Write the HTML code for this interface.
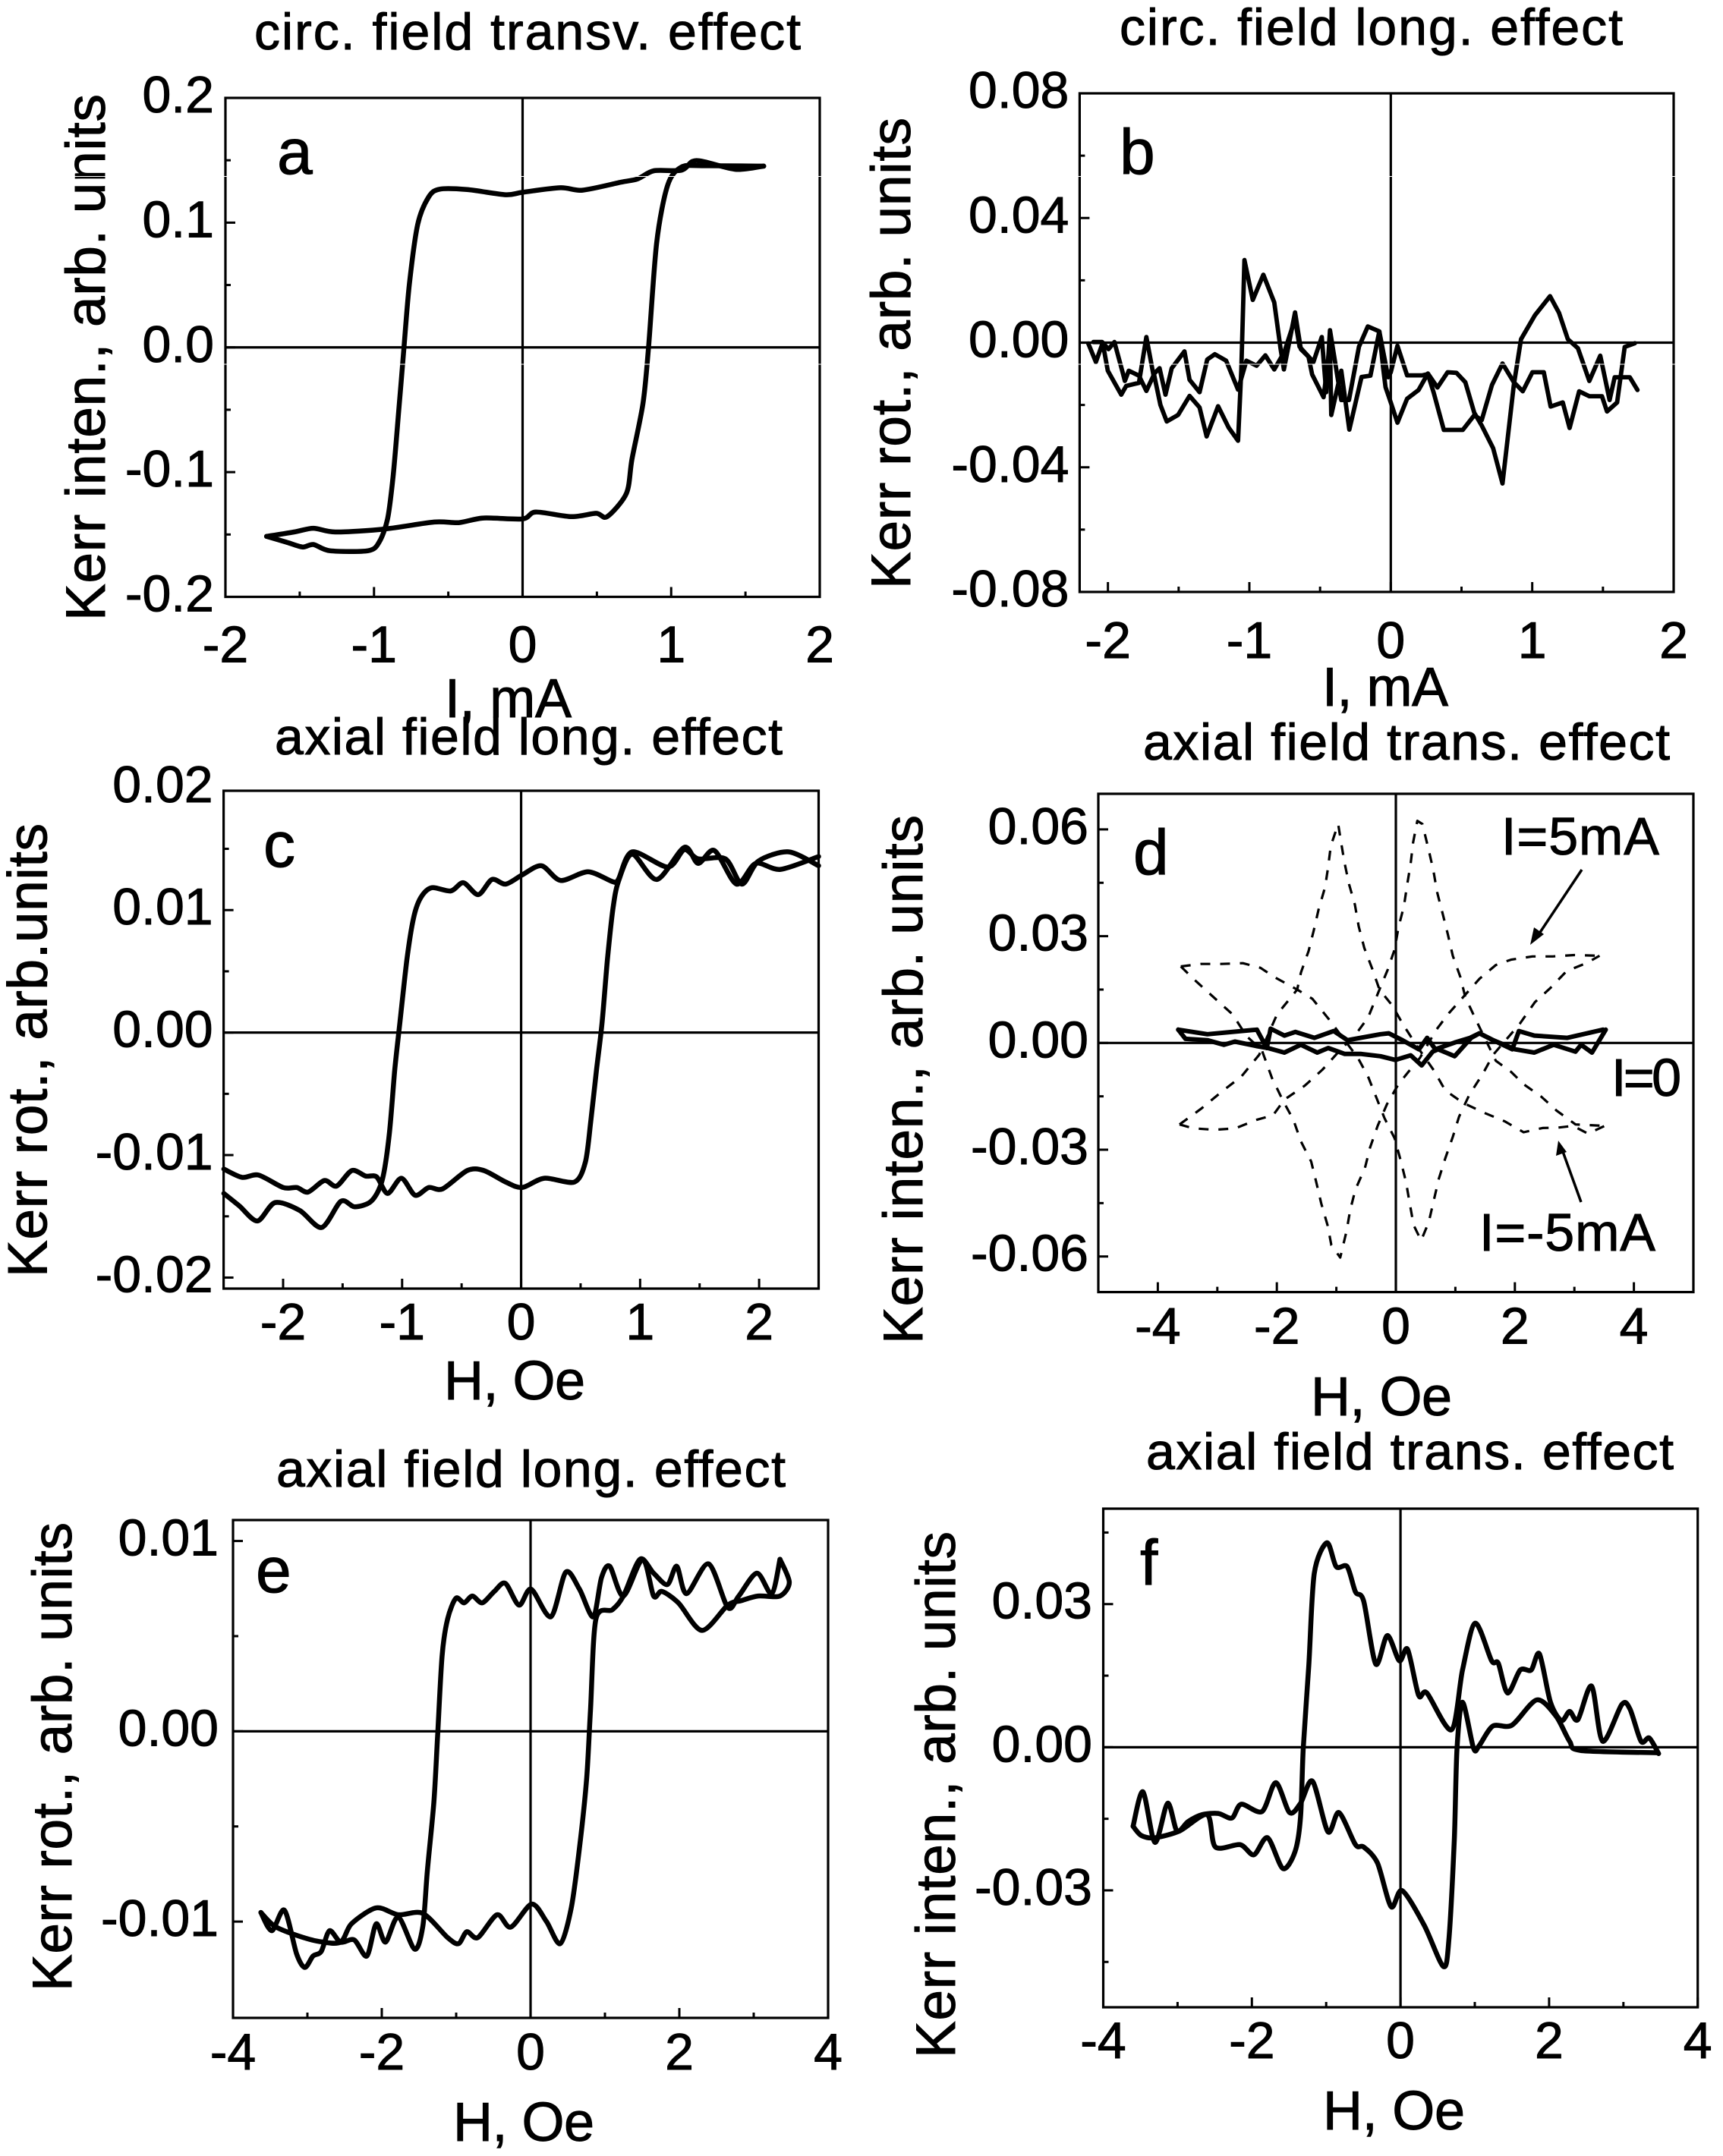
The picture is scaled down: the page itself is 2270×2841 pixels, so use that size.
<!DOCTYPE html>
<html lang="en">
<head>
<meta charset="utf-8">
<title>Kerr effect hysteresis panels</title>
<style>
html,body{margin:0;padding:0;background:#fff;}
#figure{display:block;width:2270px;height:2841px;background:#fff;font-family:"Liberation Sans",sans-serif;fill:#000;}
#figure text{stroke:#000;stroke-width:1px;}
.title{font-size:68px;}
.ylab{font-size:73px;}
.xlab{font-size:72px;}
.letter{font-size:84px;}
.note{font-size:70px;}
.tick{font-size:68px;}
</style>
</head>
<body>
<svg id="figure" xmlns="http://www.w3.org/2000/svg" width="2270" height="2841" viewBox="0 0 2270 2841">
  <rect x="0" y="0" width="2270" height="2841" fill="#fff"/>

  <g id="panel-a">
    <text class="title" x="335" y="65" textLength="720" lengthAdjust="spacing">circ. field transv. effect</text>
    <text class="ylab" transform="translate(138,818) rotate(-90)" textLength="694" lengthAdjust="spacing">Kerr inten., arb. units</text>
    <text class="xlab" x="586" y="945" textLength="167" lengthAdjust="spacing">I, mA</text>
    <text class="letter" x="365" y="229">a</text>
  </g>
  <g id="panel-b">
    <text class="title" x="1475" y="59" textLength="663" lengthAdjust="spacing">circ. field long. effect</text>
    <text class="ylab" transform="translate(1199,776) rotate(-90)" textLength="621" lengthAdjust="spacing">Kerr rot., arb. units</text>
    <text class="xlab" x="1742" y="930" textLength="166" lengthAdjust="spacing">I, mA</text>
    <text class="letter" x="1475" y="229">b</text>
  </g>
  <g id="panel-c">
    <text class="title" x="362" y="994" textLength="669" lengthAdjust="spacing">axial field long. effect</text>
    <text class="ylab" transform="translate(61.5,1683) rotate(-90)" textLength="598" lengthAdjust="spacing">Kerr rot., arb.units</text>
    <text class="xlab" x="585" y="1844" textLength="186" lengthAdjust="spacing">H, Oe</text>
    <text class="letter" x="347" y="1142">c</text>
  </g>
  <g id="panel-d">
    <text class="title" x="1506" y="1001" textLength="694" lengthAdjust="spacing">axial field trans. effect</text>
    <text class="ylab" transform="translate(1215,1771) rotate(-90)" textLength="697" lengthAdjust="spacing">Kerr inten., arb. units</text>
    <text class="xlab" x="1727" y="1865" textLength="186" lengthAdjust="spacing">H, Oe</text>
    <text class="letter" x="1493" y="1152">d</text>
    <text class="note" x="1978" y="1126" textLength="208" lengthAdjust="spacing">I=5mA</text>
    <text class="note" x="2123" y="1444" textLength="92" lengthAdjust="spacing">I=0</text>
    <text class="note" x="1949" y="1648" textLength="232" lengthAdjust="spacing">I=-5mA</text>
    <line x1="2084" y1="1146" x2="2024" y2="1236" stroke="#000" stroke-width="3.5"/>
    <polygon points="2016,1245 2021,1222 2034,1231" fill="#000"/>
    <line x1="2083" y1="1584" x2="2057" y2="1512" stroke="#000" stroke-width="3.5"/>
    <polygon points="2053,1503 2050,1523 2064,1518" fill="#000"/>
  </g>
  <g id="panel-e">
    <text class="title" x="364" y="1959" textLength="671" lengthAdjust="spacing">axial field long. effect</text>
    <text class="ylab" transform="translate(94,2624) rotate(-90)" textLength="618" lengthAdjust="spacing">Kerr rot., arb. units</text>
    <text class="xlab" x="597" y="2821" textLength="186" lengthAdjust="spacing">H, Oe</text>
    <text class="letter" x="337" y="2098">e</text>
  </g>
  <g id="panel-f">
    <text class="title" x="1510" y="1936" textLength="695" lengthAdjust="spacing">axial field trans. effect</text>
    <text class="ylab" transform="translate(1258,2712) rotate(-90)" textLength="694" lengthAdjust="spacing">Kerr inten., arb. units</text>
    <text class="xlab" x="1743" y="2806" textLength="187" lengthAdjust="spacing">H, Oe</text>
    <text class="letter" x="1502" y="2088">f</text>
  </g>
</svg>

<script>
// ---------- Panel a ----------
const aUpI = [-1.723,-1.593,-1.482,-1.408,-1.298,-1.039,-0.965,-0.909,-0.872,-0.835,-0.799,-0.762,-0.706,-0.632,-0.558,-0.373,-0.115,0,0.255,0.403,0.662,0.773,0.884,1.068,1.142,1.216,1.438,1.623];
const aUpKerr = [-0.1515,-0.156,-0.160,-0.158,-0.163,-0.163,-0.156,-0.1375,-0.104,-0.053,-0.001,0.0505,0.0985,0.1206,0.1268,0.1265,0.1224,0.1243,0.128,0.126,0.1324,0.135,0.1416,0.142,0.149,0.149,0.1427,0.1453];
const aDownI = [1.623,1.216,1.068,0.976,0.902,0.847,0.81,0.736,0.699,0.569,0.495,0.329,0.089,0,-0.262,-0.429,-0.595,-0.928,-1.261,-1.408,-1.538,-1.723];
const aDownKerr = [0.1453,0.1456,0.1445,0.130,0.0837,-0.001,-0.045,-0.0896,-0.117,-0.1357,-0.133,-0.1357,-0.132,-0.1375,-0.1368,-0.1405,-0.140,-0.1456,-0.148,-0.145,-0.148,-0.1515];
const aXMajor = [-2,-1,0,1,2];
const aXLabels = ['-2','-1','0','1','2'];
const aXMinor = [-1.5,-0.5,0.5,1.5];
const aYMajor = [0.2,0.1,0,-0.1,-0.2];
const aYLabels = ['0.2','0.1','0.0','-0.1','-0.2'];
const aYMinor = [0.15,0.05,-0.05,-0.15];

// ---------- Panel b ----------
const bOneI = [-2.139,-2.085,-2.037,-2.001,-1.906,-1.871,-1.781,-1.728,-1.679,-1.635,-1.593,-1.549,-1.459,-1.423,-1.352,-1.298,-1.244,-1.164,-1.080,-1.021,-0.949,-0.887,-0.824,-0.752,-0.677,-0.645,-0.547,-0.488,-0.457,-0.430,-0.377,-0.350,-0.296,-0.225,-0.162,-0.081,-0.019,0,0.047,0.115,0.223,0.262,0.303,0.375,0.509,0.590,0.643,0.715,0.790,0.870,0.933,1.001,1.082,1.130,1.216,1.264,1.332,1.404,1.493,1.529,1.600,1.654,1.726];
const bOneKerr = [-0.0003,-0.0062,-0.0001,-0.0090,-0.0167,-0.0139,-0.0129,0.0018,-0.0102,-0.0082,-0.0167,-0.0082,-0.0028,-0.0119,-0.0159,-0.0054,-0.0037,-0.0058,-0.0151,-0.0058,-0.0074,-0.0041,-0.0086,-0.0029,0.0076,-0.0013,-0.0062,0.0018,-0.0159,0.0040,-0.0110,-0.0184,-0.0184,-0.0013,0.0052,0.0036,-0.0111,-0.0095,-0.0010,-0.0105,-0.0105,-0.0101,-0.0160,-0.0280,-0.0280,-0.0233,-0.0249,-0.0136,-0.0067,-0.0127,-0.0156,-0.0095,-0.0095,-0.0205,-0.0192,-0.0274,-0.0156,-0.0172,-0.0172,-0.0221,-0.0192,-0.0014,-0.0002];
const bTwoI = [-2.103,-2.041,-1.996,-1.954,-1.897,-1.880,-1.853,-1.781,-1.728,-1.674,-1.629,-1.584,-1.504,-1.423,-1.352,-1.302,-1.221,-1.146,-1.080,-1.057,-1.035,-0.976,-0.901,-0.824,-0.779,-0.756,-0.677,-0.636,-0.582,-0.556,-0.475,-0.430,-0.421,-0.350,-0.293,-0.207,-0.144,-0.081,-0.055,-0.037,0,0.047,0.115,0.196,0.262,0.330,0.402,0.464,0.527,0.590,0.643,0.724,0.790,0.870,0.921,1.019,1.126,1.189,1.252,1.323,1.404,1.481,1.547,1.583,1.690,1.744];
const bTwoKerr = [0.0002,0.0002,-0.0021,0.0002,-0.0094,-0.0123,-0.0090,-0.0106,-0.0155,-0.0102,-0.0200,-0.0253,-0.0232,-0.0171,-0.0208,-0.0301,-0.0204,-0.0273,-0.0315,-0.0086,0.0265,0.0137,0.0218,0.0129,-0.0021,-0.0086,0.0097,-0.0021,-0.0045,-0.0102,-0.0175,-0.0005,-0.0232,-0.0090,-0.0279,-0.0110,-0.0106,0.0036,-0.0078,-0.0143,-0.0192,-0.0257,-0.0180,-0.0152,-0.0099,-0.0144,-0.0095,-0.0097,-0.0127,-0.0225,-0.0266,-0.0339,-0.0452,-0.0136,0.0011,0.0088,0.0149,0.0096,0.0011,-0.0018,-0.0123,-0.0042,-0.0184,-0.0111,-0.0111,-0.0152];
const bXMajor = [-2,-1,0,1,2];
const bXLabels = ['-2','-1','0','1','2'];
const bXMinor = [-1.5,-0.5,0.5,1.5];
const bYMajor = [0.08,0.04,0,-0.04,-0.08];
const bYLabels = ['0.08','0.04','0.00','-0.04','-0.08'];
const bYMinor = [0.06,0.02,-0.02,-0.06];

// ---------- Panel c ----------
const cOneH = [-2.498,-2.345,-2.207,-1.999,-1.884,-1.791,-1.653,-1.551,-1.422,-1.307,-1.214,-1.122,-1.006,-0.891,-0.776,-0.660,-0.452,-0.314,-0.129,0.009,0.194,0.448,0.540,0.586,0.633,0.679,0.725,0.771,0.817,0.933,1.140,1.371,1.487,1.625,1.810,1.971,2.179,2.5];
const cOneKerr = [-0.01114,-0.01182,-0.01163,-0.01265,-0.01265,-0.01302,-0.01208,-0.01253,-0.01126,-0.01171,-0.01178,-0.01313,-0.01189,-0.01328,-0.01265,-0.01276,-0.01126,-0.01126,-0.01220,-0.01265,-0.01189,-0.01220,-0.01058,-0.00720,-0.00308,0.00068,0.00593,0.01006,0.01231,0.01456,0.01250,0.01512,0.01381,0.01486,0.01212,0.01381,0.01332,0.01437];
const cTwoH = [-2.498,-2.368,-2.216,-2.068,-1.861,-1.676,-1.514,-1.399,-1.260,-1.168,-1.108,-1.062,-1.020,-0.960,-0.905,-0.845,-0.753,-0.591,-0.485,-0.360,-0.245,-0.129,0.009,0.171,0.332,0.563,0.771,0.817,0.933,1.233,1.371,1.487,1.717,1.856,1.994,2.248,2.5];
const cTwoKerr = [-0.01313,-0.01415,-0.01538,-0.01388,-0.01452,-0.01591,-0.01377,-0.01422,-0.01377,-0.01208,-0.00833,-0.00308,0.00068,0.00593,0.00931,0.01099,0.01182,0.01156,0.01223,0.01126,0.01250,0.01212,0.01287,0.01362,0.01242,0.01313,0.01231,0.01250,0.01475,0.01351,0.01493,0.01418,0.01418,0.01212,0.01400,0.01475,0.01362];
const cXMajor = [-2,-1,0,1,2];
const cXLabels = ['-2','-1','0','1','2'];
const cXMinor = [-1.5,-0.5,0.5,1.5];
const cYMajor = [0.02,0.01,0,-0.01,-0.02];
const cYLabels = ['0.02','0.01','0.00','-0.01','-0.02'];
const cYMinor = [0.015,0.005,-0.005,-0.015];

// ---------- Panel d ----------
const dZeroUpperH = [-3.657,-3.167,-2.336,-2.170,-2.105,-1.874,-1.690,-1.367,-1.043,-0.813,-0.259,-0.120,0.111,0.388,0.526,0.665,0.988,1.247,1.404,1.634,1.957,2.068,2.327,2.881,3.481];
const dZeroUpperKerr = [0.00374,0.00245,0.00374,-0.00142,0.0040,0.00206,0.00309,0.00142,0.00335,0.00077,0.00245,0.00271,0.00077,-0.0018,0.00142,-0.0018,0.0001,0.00142,0.00271,0.00077,-0.0018,0.00335,0.00206,0.00142,0.00374];
const dZeroLowerH = [-3.657,-3.536,-3.167,-2.890,-2.705,-2.336,-2.151,-1.874,-1.597,-1.320,-1.136,-0.859,-0.582,-0.259,-0.009,0.249,0.434,0.619,0.711,0.988,1.265,1.404,1.634,2.004,2.327,2.650,3.019,3.112,3.296,3.527];
const dZeroLowerKerr = [0.00374,0.00116,0.00077,-0.00052,0.00039,-0.0009,-0.00142,-0.00271,-0.00052,-0.00271,-0.00142,-0.00309,-0.00309,-0.00374,-0.00477,-0.00348,-0.00632,-0.00245,-0.0018,-0.00374,0.00142,0.00271,0.00077,-0.0018,-0.00271,-0.00052,-0.00245,-0.00052,-0.00271,0.00374];
const dPlusOneH = [-3.614,-3.274,-2.934,-2.572,-2.275,-2.041,-1.658,-1.403,-1.127,-0.893,-0.638,-0.468,-0.191,-0.021,0.085,0.170,0.234,0.298,0.425,0.553,0.638,0.723,0.829,0.957,1.063,1.233,1.467,1.637,2.083,2.338,2.594,2.870,3.210,3.423];
const dPlusOneKerr = [0.0215,0.0222,0.0222,0.0224,0.0211,0.0185,0.0150,0.0124,0.0067,0.0015,-0.0042,-0.0094,-0.0211,-0.0268,-0.0333,-0.0390,-0.0451,-0.0512,-0.0555,-0.0503,-0.0442,-0.0381,-0.0325,-0.0264,-0.0207,-0.0146,-0.0085,-0.0033,0.0054,0.0115,0.0154,0.0202,0.0225,0.0245];
const dPlusTwoH = [-3.614,-3.401,-3.040,-2.742,-2.509,-2.253,-2.083,-1.892,-1.722,-1.594,-1.424,-1.339,-1.254,-1.148,-1.084,-0.935,-0.829,-0.765,-0.680,-0.519,-0.434,-0.306,-0.149,0.043,0.255,0.404,0.680,0.893,1.148,1.403,1.680,1.935,2.296,2.636,2.997,3.423];
const dPlusTwoKerr = [0.0215,0.0180,0.0125,0.0080,0.0019,-0.0020,-0.0098,-0.0164,-0.0216,-0.0277,-0.0333,-0.0390,-0.0451,-0.0512,-0.0568,-0.0603,-0.0529,-0.0468,-0.0412,-0.0351,-0.0294,-0.0233,-0.0172,-0.0116,-0.0072,-0.0042,0.0037,0.0084,0.0132,0.0180,0.0219,0.0234,0.0243,0.0243,0.0247,0.0245];
const dMinusOneH = [-3.635,-3.401,-3.040,-2.700,-2.338,-2.062,-1.871,-1.531,-1.233,-0.935,-0.680,-0.468,-0.276,-0.136,-0.021,0.043,0.136,0.191,0.247,0.289,0.361,0.446,0.553,0.630,0.693,0.787,0.872,0.957,1.084,1.169,1.339,1.680,1.935,2.147,2.444,2.700,3.019,3.508];
const dMinusOneKerr = [-0.0229,-0.0240,-0.0244,-0.0240,-0.0216,-0.0203,-0.0159,-0.0120,-0.0075,-0.0020,0.0023,0.0071,0.0150,0.0206,0.0263,0.0324,0.0385,0.0446,0.0502,0.0563,0.0624,0.0615,0.0541,0.0485,0.0424,0.0363,0.0306,0.0245,0.0185,0.0128,0.0067,-0.0050,-0.0081,-0.0116,-0.0151,-0.0190,-0.0229,-0.0233];
const dMinusTwoH = [-3.635,-3.274,-2.934,-2.594,-2.296,-1.998,-1.658,-1.594,-1.467,-1.382,-1.297,-1.190,-1.139,-1.093,-0.969,-0.923,-0.863,-0.787,-0.689,-0.625,-0.531,-0.391,-0.276,-0.064,0.128,0.383,0.638,0.829,1.126,1.510,1.828,2.147,2.466,2.721,2.976,3.231,3.508];
const dMinusTwoKerr = [-0.0229,-0.0185,-0.0138,-0.0094,-0.0033,0.0080,0.0150,0.0198,0.0258,0.0315,0.0376,0.0437,0.0493,0.0554,0.0615,0.0567,0.0507,0.0446,0.0389,0.0328,0.0267,0.0206,0.0150,0.0106,0.0050,-0.0016,-0.0077,-0.0133,-0.0168,-0.0198,-0.0220,-0.0251,-0.0239,-0.0238,-0.0233,-0.0255,-0.0233];
const dXMajor = [-4,-2,0,2,4];
const dXLabels = ['-4','-2','0','2','4'];
const dXMinor = [-3,-1,1,3];
const dYMajor = [0.06,0.03,0,-0.03,-0.06];
const dYLabels = ['0.06','0.03','0.00','-0.03','-0.06'];
const dYMinor = [0.045,0.015,-0.015,-0.045];

// ---------- Panel e ----------
const eOneH = [-3.626,-3.479,-3.309,-3.146,-3.035,-2.925,-2.814,-2.703,-2.555,-2.371,-2.201,-2.075,-1.950,-1.780,-1.558,-1.448,-1.388,-1.300,-1.248,-1.189,-1.115,-1.004,-0.894,-0.783,-0.650,-0.487,-0.340,-0.155,0.007,0.273,0.473,0.657,0.842,0.953,1.064,1.248,1.507,1.654,1.765,1.987,2.304,2.651,2.836,3.058,3.353,3.479,3.353];
const eOneKerr = [-0.00952,-0.01048,-0.00940,-0.01169,-0.01241,-0.01181,-0.01157,-0.01048,-0.01108,-0.01096,-0.01181,-0.01012,-0.01108,-0.00976,-0.01145,-0.01024,-0.00735,-0.00373,-0.00012,0.00398,0.00590,0.00699,0.00675,0.00711,0.00675,0.00735,0.00778,0.00663,0.00747,0.00602,0.00836,0.00747,0.00602,0.00807,0.00867,0.00711,0.00904,0.00711,0.00735,0.00675,0.00530,0.00663,0.00687,0.00711,0.00711,0.00783,0.00904];
const eTwoH = [-3.626,-3.442,-3.146,-2.851,-2.555,-2.408,-2.075,-1.780,-1.448,-1.115,-0.968,-0.857,-0.709,-0.451,-0.266,0.015,0.214,0.399,0.547,0.657,0.753,0.805,0.879,1.100,1.248,1.470,1.654,1.839,1.965,2.097,2.393,2.651,2.799,3.043,3.242,3.353];
const eTwoKerr = [-0.00952,-0.01024,-0.01072,-0.01104,-0.01108,-0.01012,-0.00928,-0.00964,-0.00957,-0.01084,-0.01116,-0.01053,-0.01084,-0.00964,-0.01029,-0.00908,-0.01000,-0.01116,-0.00928,-0.00614,-0.00253,0.00108,0.00590,0.00639,0.00711,0.00904,0.00831,0.00771,0.00867,0.00723,0.00880,0.00651,0.00711,0.00831,0.00723,0.00904];
const eXMajor = [-4,-2,0,2,4];
const eXLabels = ['-4','-2','0','2','4'];
const eXMinor = [-3,-1,1,3];
const eYMajor = [0.01,0,-0.01];
const eYLabels = ['0.01','0.00','-0.01'];
const eYMinor = [0.005,-0.005];

// ---------- Panel f ----------
const fOneH = [-3.599,-3.466,-3.304,-3.134,-3.008,-2.860,-2.676,-2.454,-2.269,-2.143,-1.863,-1.678,-1.493,-1.345,-1.183,-0.976,-0.828,-0.606,-0.495,-0.310,-0.126,0.022,0.318,0.576,0.650,0.724,0.761,0.835,0.983,1.057,1.242,1.500,1.833,2.092,2.276,2.424,3.459];
const fOneKerr = [-0.01657,-0.00934,-0.01994,-0.01175,-0.01753,-0.01560,-0.01416,-0.01387,-0.01483,-0.01194,-0.01348,-0.00742,-0.01368,-0.01175,-0.00713,-0.01772,-0.01368,-0.02042,-0.02090,-0.02427,-0.03342,-0.03005,-0.03727,-0.04594,-0.04064,-0.01945,-0.00019,0.00944,-0.00019,0.00029,0.00443,0.00462,0.00992,0.00655,0.00125,-0.00067,-0.00116];
const fTwoH = [-3.599,-3.489,-3.304,-2.971,-2.602,-2.491,-2.158,-1.973,-1.789,-1.582,-1.419,-1.345,-1.308,-1.234,-1.160,-0.990,-0.865,-0.717,-0.606,-0.495,-0.333,-0.177,-0.015,0.096,0.244,0.355,0.687,0.835,1.005,1.227,1.316,1.441,1.611,1.759,1.870,2.018,2.166,2.276,2.387,2.572,2.720,2.979,3.089,3.237,3.348,3.474];
const fTwoKerr = [-0.01657,-0.01849,-0.01897,-0.01753,-0.01416,-0.02090,-0.02042,-0.02254,-0.01897,-0.02543,-0.02186,-0.01464,-0.00019,0.01714,0.03641,0.04286,0.03785,0.03785,0.03255,0.03063,0.01743,0.02340,0.01811,0.02051,0.01088,0.01136,0.00366,0.01618,0.02600,0.01811,0.01762,0.01136,0.01618,0.01618,0.01955,0.00944,0.00559,0.00751,0.00578,0.01281,0.00125,0.00896,0.00799,0.00125,0.00193,-0.00135];
const fXMajor = [-4,-2,0,2,4];
const fXLabels = ['-4','-2','0','2','4'];
const fXMinor = [-3,-1,1,3];
const fYMajor = [0.03,0,-0.03];
const fYLabels = ['0.03','0.00','-0.03'];
const fYMinor = [0.045,0.015,-0.015,-0.045];

// ---------- Drawing ----------
const SVGNS = document.getElementById('figure').namespaceURI;

function makeLine(parent, x1, y1, x2, y2, width, name) {
  const el = document.createElementNS(SVGNS, 'line');
  el.setAttribute('x1', x1);
  el.setAttribute('y1', y1);
  el.setAttribute('x2', x2);
  el.setAttribute('y2', y2);
  el.setAttribute('stroke', '#000');
  el.setAttribute('stroke-width', width);
  
  
  parent.appendChild(el);
}

function makeLabel(parent, x, y, anchor, value, name) {
  const el = document.createElementNS(SVGNS, 'text');
  el.setAttribute('class', 'tick');
  el.setAttribute('x', x);
  el.setAttribute('y', y);
  el.setAttribute('text-anchor', anchor);
  el.textContent = value;
  
  
  parent.appendChild(el);
}

// Straight segments, or a gently rounded Catmull-Rom curve through the same points.
function pathFrom(pts, smooth) {
  let d = 'M' + pts[0][0].toFixed(1) + ' ' + pts[0][1].toFixed(1);
  for (let i = 0; i < pts.length - 1; i++) {
    const p0 = pts[Math.max(i - 1, 0)];
    const p1 = pts[i];
    const p2 = pts[i + 1];
    const p3 = pts[Math.min(i + 2, pts.length - 1)];
    if (smooth) {
      const k = 1 / 7;
      const c1x = p1[0] + (p2[0] - p0[0]) * k;
      const c1y = p1[1] + (p2[1] - p0[1]) * k;
      const c2x = p2[0] - (p3[0] - p1[0]) * k;
      const c2y = p2[1] - (p3[1] - p1[1]) * k;
      d += 'C' + c1x.toFixed(1) + ' ' + c1y.toFixed(1) + ' ' + c2x.toFixed(1) + ' ' + c2y.toFixed(1) + ' ' + p2[0].toFixed(1) + ' ' + p2[1].toFixed(1);
    } else {
      d += 'L' + p2[0].toFixed(1) + ' ' + p2[1].toFixed(1);
    }
  }
  return d;
}

function drawAxes(p) {
  const g = document.getElementById('panel-' + p.id);
  const sx = v => p.l + (v - p.xMin) / (p.xMax - p.xMin) * (p.r - p.l);
  const sy = v => p.b - (v - p.yMin) / (p.yMax - p.yMin) * (p.b - p.t);
  const inY = v => v <= p.yMax + 1e-9 && v >= p.yMin - 1e-9;

  const frame = document.createElementNS(SVGNS, 'rect');
  frame.setAttribute('x', p.l);
  frame.setAttribute('y', p.t);
  frame.setAttribute('width', p.r - p.l);
  frame.setAttribute('height', p.b - p.t);
  frame.setAttribute('fill', 'none');
  frame.setAttribute('stroke', '#000');
  frame.setAttribute('stroke-width', 3.2);
  
  
  g.appendChild(frame);

  makeLine(g, sx(0), p.t, sx(0), p.b, 3.2, 'panel-' + p.id + '-zero-vertical');
  makeLine(g, p.l, sy(0), p.r, sy(0), 3.2, 'panel-' + p.id + '-zero-horizontal');

  p.xMajor.forEach((v, i) => {
    makeLine(g, sx(v), p.b, sx(v), p.b - 13, 3, 'panel-' + p.id + '-x-tick');
    makeLabel(g, sx(v), p.b + p.xLabelGap, 'middle', p.xLabels[i], 'panel-' + p.id + '-x-tick-label');
  });
  p.xMinor.forEach(v => {
    makeLine(g, sx(v), p.b, sx(v), p.b - 7, 3, 'panel-' + p.id + '-x-minor-tick');
  });
  p.yMajor.forEach((v, i) => {
    if (inY(v)) {
      makeLine(g, p.l, sy(v), p.l + 13, sy(v), 3, 'panel-' + p.id + '-y-tick');
    }
    makeLabel(g, p.l - p.yLabelGap, sy(v) + 19, 'end', p.yLabels[i], 'panel-' + p.id + '-y-tick-label');
  });
  p.yMinor.forEach(v => {
    makeLine(g, p.l, sy(v), p.l + 7, sy(v), 3, 'panel-' + p.id + '-y-minor-tick');
  });

  p.series.forEach(s => {
    const pts = s.x.map((v, i) => [sx(v), sy(s.y[i])]);
    const el = document.createElementNS(SVGNS, 'path');
    el.setAttribute('d', pathFrom(pts, p.smooth && !s.dash));
    el.setAttribute('fill', 'none');
    el.setAttribute('stroke', '#000');
    el.setAttribute('stroke-width', s.dash ? 3.2 : p.lineWidth);
    el.setAttribute('stroke-linejoin', 'round');
    if (s.dash) {
      el.setAttribute('stroke-dasharray', '13 13');
    } else {
      el.setAttribute('stroke-linecap', 'round');
    }
    
    
    g.appendChild(el);
  });
}

drawAxes({id:'a', l:297, r:1080, t:129, b:786.5, xMin:-2, xMax:2, yMin:-0.2, yMax:0.2, xLabelGap:86, yLabelGap:15, smooth:true, lineWidth:6.5,
  xMajor:aXMajor, xLabels:aXLabels, xMinor:aXMinor, yMajor:aYMajor, yLabels:aYLabels, yMinor:aYMinor,
  series:[{x:aUpI, y:aUpKerr, name:'panel-a-forward-branch'},{x:aDownI, y:aDownKerr, name:'panel-a-return-branch'}]});

drawAxes({id:'b', l:1422.4, r:2205, t:123, b:780, xMin:-2.2, xMax:2, yMin:-0.08, yMax:0.08, xLabelGap:87, yLabelGap:14, smooth:false, lineWidth:5.8,
  xMajor:bXMajor, xLabels:bXLabels, xMinor:bXMinor, yMajor:bYMajor, yLabels:bYLabels, yMinor:bYMinor,
  series:[{x:bOneI, y:bOneKerr, name:'panel-b-branch-one'},{x:bTwoI, y:bTwoKerr, name:'panel-b-branch-two'}]});

drawAxes({id:'c', l:294.6, r:1078.5, t:1042, b:1698, xMin:-2.5, xMax:2.5, yMin:-0.0209, yMax:0.01974, xLabelGap:67, yLabelGap:14, smooth:true, lineWidth:6.5,
  xMajor:cXMajor, xLabels:cXLabels, xMinor:cXMinor, yMajor:cYMajor, yLabels:cYLabels, yMinor:cYMinor,
  series:[{x:cOneH, y:cOneKerr, name:'panel-c-branch-one'},{x:cTwoH, y:cTwoKerr, name:'panel-c-branch-two'}]});

drawAxes({id:'d', l:1447, r:2231, t:1046, b:1702.6, xMin:-5, xMax:5, yMin:-0.07, yMax:0.07, xLabelGap:68, yLabelGap:13, smooth:false, lineWidth:6,
  xMajor:dXMajor, xLabels:dXLabels, xMinor:dXMinor, yMajor:dYMajor, yLabels:dYLabels, yMinor:dYMinor,
  series:[
    {x:dPlusOneH, y:dPlusOneKerr, dash:true, name:'panel-d-plus-5ma-branch-one'},
    {x:dPlusTwoH, y:dPlusTwoKerr, dash:true, name:'panel-d-plus-5ma-branch-two'},
    {x:dMinusOneH, y:dMinusOneKerr, dash:true, name:'panel-d-minus-5ma-branch-one'},
    {x:dMinusTwoH, y:dMinusTwoKerr, dash:true, name:'panel-d-minus-5ma-branch-two'},
    {x:dZeroUpperH, y:dZeroUpperKerr, name:'panel-d-zero-current-upper'},
    {x:dZeroLowerH, y:dZeroLowerKerr, name:'panel-d-zero-current-lower'}]});

drawAxes({id:'e', l:307, r:1091, t:2003, b:2659, xMin:-4, xMax:4, yMin:-0.01506, yMax:0.0111, xLabelGap:68, yLabelGap:19, smooth:true, lineWidth:6.5,
  xMajor:eXMajor, xLabels:eXLabels, xMinor:eXMinor, yMajor:eYMajor, yLabels:eYLabels, yMinor:eYMinor,
  series:[{x:eOneH, y:eOneKerr, name:'panel-e-branch-one'},{x:eTwoH, y:eTwoKerr, name:'panel-e-branch-two'}]});

drawAxes({id:'f', l:1453.5, r:2236.7, t:1988, b:2645, xMin:-4, xMax:4, yMin:-0.0545, yMax:0.05, xLabelGap:67, yLabelGap:14.5, smooth:true, lineWidth:6.5,
  xMajor:fXMajor, xLabels:fXLabels, xMinor:fXMinor, yMajor:fYMajor, yLabels:fYLabels, yMinor:fYMinor,
  series:[{x:fOneH, y:fOneKerr, name:'panel-f-branch-one'},{x:fTwoH, y:fTwoKerr, name:'panel-f-branch-two'}]});

// Thin white scan seams present in the source figure
[232.5, 480].forEach(y => {
  const seam = document.createElementNS(SVGNS, 'rect');
  seam.setAttribute('x', 0);
  seam.setAttribute('y', y - 0.5);
  seam.setAttribute('width', 2270);
  seam.setAttribute('height', 1);
  seam.setAttribute('fill', '#fff');
  
  
  document.getElementById('figure').appendChild(seam);
});
</script>
</body>
</html>
